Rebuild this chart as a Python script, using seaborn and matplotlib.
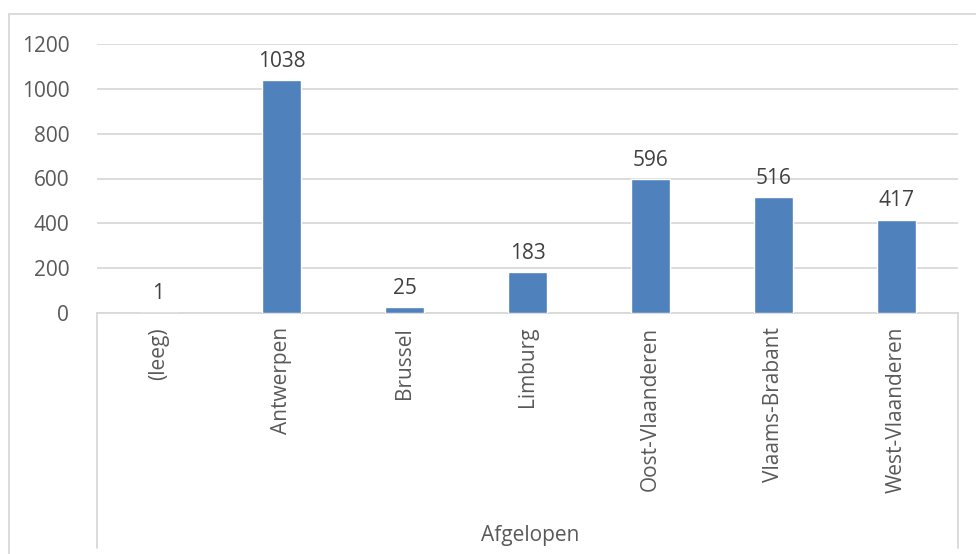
import matplotlib
matplotlib.use("Agg")
import matplotlib.pyplot as plt
import seaborn as sns
import pandas as pd
from matplotlib.lines import Line2D

provinces = ["(leeg)", "Antwerpen", "Brussel", "Limburg",
             "Oost-Vlaanderen", "Vlaams-Brabant", "West-Vlaanderen"]
counts = [1, 1038, 25, 183, 596, 516, 417]
y_ticks = [0, 200, 400, 600, 800, 1000, 1200]
group_label = "Afgelopen"

df = pd.DataFrame({"provincie": provinces, "aantal": counts})

sns.set_style("white")
plt.rcParams["font.family"] = ["Open Sans", "DejaVu Sans"]
text_col = "#595959"
grid_col = "#D9D9D9"
fs = 15

fig = plt.figure(figsize=(9.76, 5.54), dpi=100)
W, H = 976, 554
ax = fig.add_axes([97 / W, 1 - 313 / H, (958 - 97) / W, (313 - 44) / H])

sns.barplot(data=df, x="provincie", y="aantal", color="#4F81BD",
            width=0.31, saturation=1, ax=ax, zorder=3)

ax.set_ylim(0, 1200)
ax.set_xlim(-0.5, len(provinces) - 0.5)
ax.set_yticks(y_ticks)
ax.set_yticklabels([str(t) for t in y_ticks], fontsize=fs, color=text_col)
ax.set_xticks(range(len(provinces)))
ax.set_xticklabels(provinces, rotation=90, fontsize=fs, color=text_col,
                   va="top", ha="center")
ax.tick_params(axis="y", length=0, pad=20)
ax.tick_params(axis="x", length=0, pad=10)
ax.set_xlabel("")
ax.set_ylabel("")

ax.yaxis.grid(True, color=grid_col, linewidth=1.3, zorder=0)
ax.set_axisbelow(True)
for s in ["left", "right", "top"]:
    ax.spines[s].set_visible(False)
ax.spines["bottom"].set_color(grid_col)
ax.spines["bottom"].set_linewidth(1.3)

for c in ax.containers:
    ax.bar_label(c, labels=[str(v) for v in counts], padding=6,
                 fontsize=fs, color="#404040")

# category box lines below the axis
for xp in [97, 958]:
    fig.add_artist(Line2D([xp / W, xp / W], [1 - 313 / H, 1 - 548 / H],
                          color=grid_col, linewidth=1.3))
fig.text(530 / W, 1 - 535 / H, group_label, fontsize=fs, color=text_col,
         ha="center", va="center")

# outer chart border
fig.add_artist(Line2D([9 / W, 9 / W], [1 - 14 / H, 0], color=grid_col, linewidth=1.3))
fig.add_artist(Line2D([9 / W, 1], [1 - 14 / H, 1 - 14 / H], color=grid_col, linewidth=1.3))

fig.savefig("out.png", dpi=100)
